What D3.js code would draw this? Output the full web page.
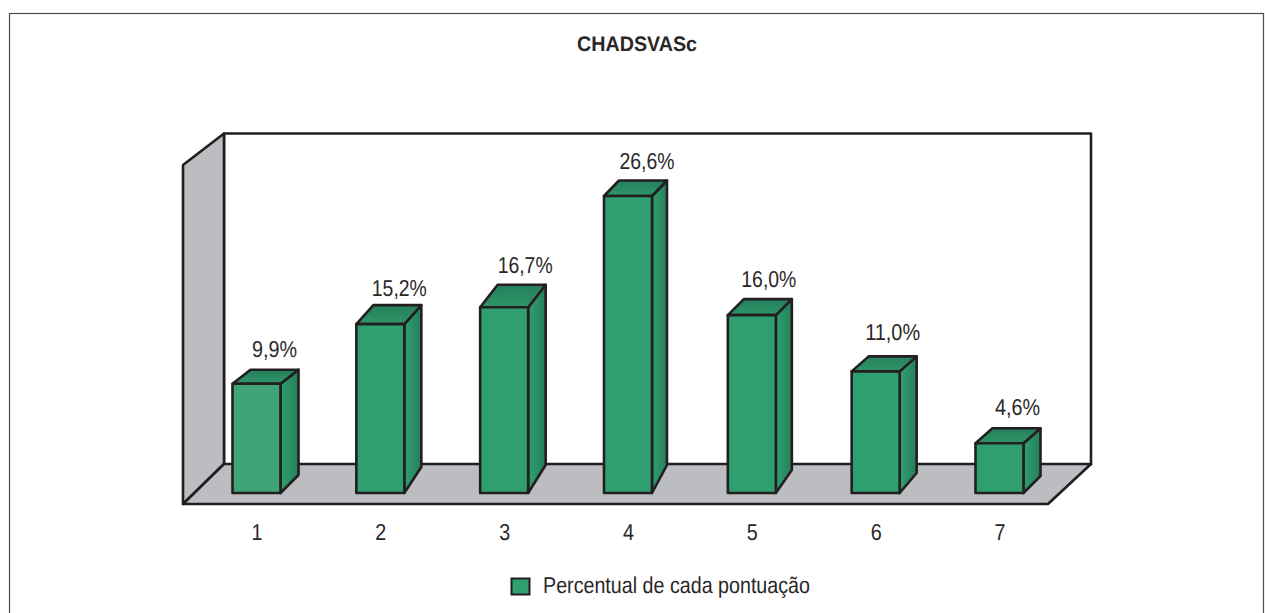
<!DOCTYPE html>
<html>
<head>
<meta charset="utf-8">
<script src="https://cdn.jsdelivr.net/npm/d3@7"></script>
<style>
  body { margin: 0; background: #fff; }
  text { font-family: "Liberation Sans", Arial, sans-serif; fill: #2b2728; text-rendering: geometricPrecision; }
</style>
</head>
<body>
<svg id="graph" width="1265" height="613"></svg>
<script>
var categories = ['1', '2', '3', '4', '5', '6', '7'];
var percents = [9.9, 15.2, 16.7, 26.6, 16.0, 11.0, 4.6];
var percentLabels = ['9,9%', '15,2%', '16,7%', '26,6%', '16,0%', '11,0%', '4,6%'];
var chartTitle = 'CHADSVASc';
var legendLabel = 'Percentual de cada pontuação';

var ink = '#231f20';
var green = '#2f9f70';
var floorGray = '#bcbdc0';
// the 3d depth is hand drawn in the original, so it is not the same on each bar
var depth = [18, 17, 17.5, 15, 16, 17, 17];
var riseTop = [14, 19, 22.5, 15.5, 16, 15, 15];
var riseBase = [18, 26, 28, 28, 23, 20, 17];
var labelGap = [13, 9, 12, 12, 12, 16, 13];
var labelShift = [18, 19, 21, 19, 17, 17, 18];

var svg = d3.select('#graph');

// gradients for the side and top faces
var defs = svg.append('defs');
var sideGrad = defs.append('linearGradient').attr('id', 'side');
sideGrad.append('stop').attr('offset', '0%').attr('stop-color', '#2f9f70');
sideGrad.append('stop').attr('offset', '100%').attr('stop-color', '#267f5b');
var topGrad = defs.append('linearGradient').attr('id', 'top').attr('x1', 0).attr('x2', 0).attr('y1', 0).attr('y2', 1);
topGrad.append('stop').attr('offset', '0%').attr('stop-color', '#267f5b');
topGrad.append('stop').attr('offset', '100%').attr('stop-color', '#2e9669');

// outer frame
svg.append('rect')
    .attr('x', 9.5).attr('y', 13.5)
    .attr('width', 1254).attr('height', 640)
    .attr('fill', 'none').attr('stroke', '#4d4d4f').attr('stroke-width', 1.2);

svg.append('text')
    .attr('x', 637).attr('y', 51)
    .attr('text-anchor', 'middle')
    .attr('font-size', 21).attr('font-weight', 'bold')
    .attr('textLength', 120).attr('lengthAdjust', 'spacingAndGlyphs')
    .text(chartTitle);

var xScale = d3.scalePoint().domain(categories).range([256.5, 999.5]);
var yScale = d3.scaleLinear().domain([0, 26.6]).range([495, 196]);
var baseY = 493;
var barWidth = 48;

// box: left wall, back wall, floor
var box = svg.append('g')
    .attr('stroke', ink).attr('stroke-width', 2.6).attr('stroke-linejoin', 'round');
box.append('rect').attr('x', 224).attr('y', 133.5).attr('width', 867).attr('height', 331).attr('fill', '#fff');
box.append('path').attr('d', 'M183,165 L224,133.5 L224,464 L183,504 Z').attr('fill', floorGray);
box.append('path').attr('d', 'M224,464 L1091,464 L1048,504 L183,504 Z').attr('fill', floorGray);

var bars = svg.selectAll('.bar')
    .data(percents)
    .enter().append('g')
    .attr('class', 'bar')
    .attr('fill', 'none')
    .attr('stroke', ink).attr('stroke-width', 2.6).attr('stroke-linejoin', 'round');

function left(d, i) { return xScale(categories[i]) - barWidth / 2; }

bars.append('path') // side
    .attr('fill', 'url(#side)')
    .attr('d', function (d, i) {
        var x = left(d, i) + barWidth, t = yScale(d);
        return 'M' + x + ',' + t + 'L' + (x + depth[i]) + ',' + (t - riseTop[i]) +
            'L' + (x + depth[i]) + ',' + (baseY - riseBase[i]) + 'L' + x + ',' + baseY + 'Z';
    });

bars.append('path') // top
    .attr('fill', 'url(#top)')
    .attr('d', function (d, i) {
        var x = left(d, i), t = yScale(d);
        return 'M' + x + ',' + t + 'L' + (x + depth[i]) + ',' + (t - riseTop[i]) +
            'L' + (x + barWidth + depth[i]) + ',' + (t - riseTop[i]) + 'L' + (x + barWidth) + ',' + t + 'Z';
    });

bars.append('rect') // front
    .attr('x', left)
    .attr('y', function (d) { return yScale(d); })
    .attr('width', barWidth)
    .attr('height', function (d) { return baseY - yScale(d); })
    .attr('fill', function (d, i) { return i == 0 ? '#41a477' : green; });

svg.selectAll('.value')
    .data(percents)
    .enter().append('text')
    .attr('class', 'value')
    .attr('x', function (d, i) { return xScale(categories[i]) + labelShift[i]; })
    .attr('y', function (d, i) { return yScale(d) - riseTop[i] - labelGap[i]; })
    .attr('text-anchor', 'middle')
    .attr('font-size', 23)
    .attr('textLength', function (d, i) { return percentLabels[i].length == 4 ? 45 : 55; })
    .attr('lengthAdjust', 'spacingAndGlyphs')
    .text(function (d, i) { return percentLabels[i]; });

// category labels
var xAxis = d3.axisBottom(xScale).tickSize(0).tickPadding(0);
var xG = svg.append('g')
    .attr('transform', 'translate(0,524)')
    .call(xAxis);
xG.select('.domain').remove();
xG.selectAll('text')
    .attr('font-family', '"Liberation Sans", Arial, sans-serif')
    .attr('font-size', 23)
    .attr('textLength', 11)
    .attr('lengthAdjust', 'spacingAndGlyphs')
    .attr('fill', ink);

// legend
svg.append('rect')
    .attr('x', 511.5).attr('y', 578.5)
    .attr('width', 18).attr('height', 16)
    .attr('fill', green).attr('stroke', ink).attr('stroke-width', 2);
svg.append('text')
    .attr('x', 543).attr('y', 593)
    .attr('font-size', 23)
    .attr('textLength', 267).attr('lengthAdjust', 'spacingAndGlyphs')
    .text(legendLabel);
</script>
</body>
</html>
